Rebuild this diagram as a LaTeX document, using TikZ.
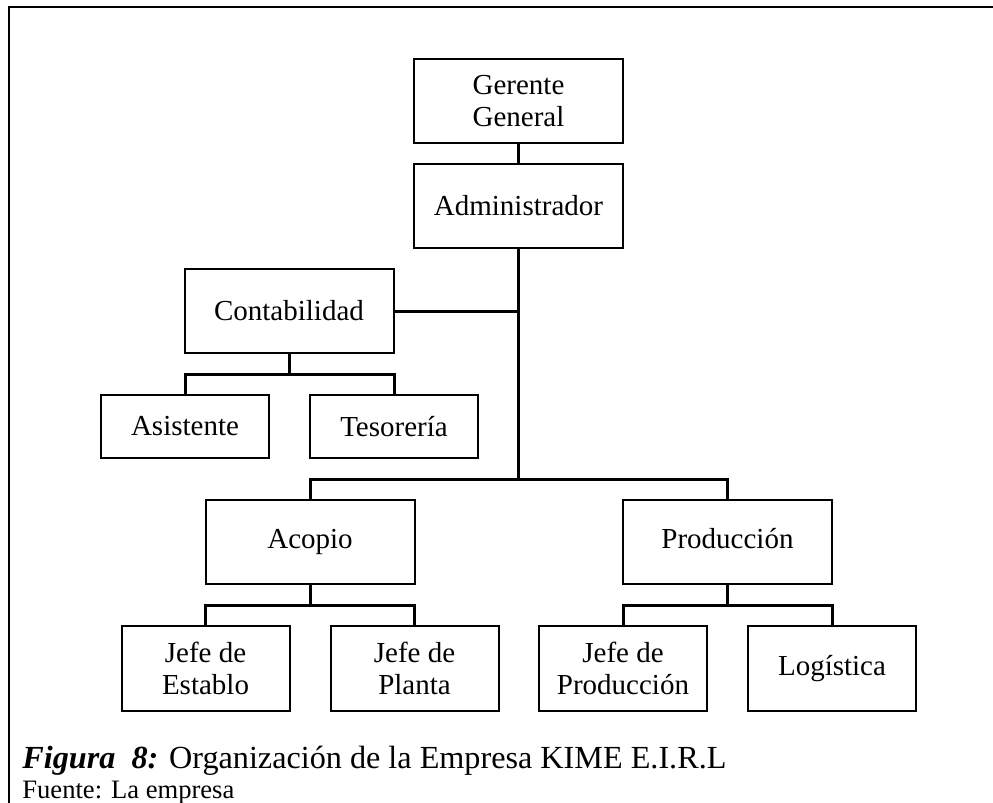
\documentclass[tikz,border=0pt]{standalone}
\usepackage{fontspec}
\setmainfont{Liberation Serif}
\usetikzlibrary{positioning}

\begin{document}
\begin{tikzpicture}[x=0.5pt, y=-0.5pt,
		cargo/.style={draw, line width=1pt, rectangle, inner sep=0pt, align=center,
			minimum width=104.5pt, minimum height=42pt,
			font=\fontsize{14.5}{16}\selectfont},
		subcargo/.style={cargo, minimum width=84pt, minimum height=42.5pt},
		enlace/.style={line width=1.5pt}]
	% 1. marco y limites
	\useasboundingbox (0,0) rectangle (993,803);
	\draw[line width=1.4pt] (9,803) -- (9,7) -- (993,7);
	
	% 2. cargos
	\node[cargo] (gerente) at (518.5,101) {Gerente\\General};
	\node[cargo] (admin) at (518.5,206) {Administrador};
	\node[cargo] (conta) at (289,311) {Contabilidad};
	\node[subcargo, minimum height=31.5pt] (asist) at (185,426.5) {Asistente};
	\node[subcargo, minimum height=31.5pt] (teso) at (394,426.5) {Tesorería};
	\node[cargo] (acopio) at (310,542) {\strut Acopio};
	\node[cargo] (prod) at (727.5,542) {\strut Producción};
	\node[subcargo] (jestablo) at (205.5,668.5) {Jefe de\\Establo};
	\node[subcargo] (jplanta) at (414.5,668.5) {Jefe de\\Planta};
	\node[subcargo] (jprod) at (623,668.5) {Jefe de\\Producción};
	\node[subcargo] (logis) at (832,668.5) {Logística};
	
	% 3. puntos de quiebre
	\coordinate (tronco) at (518.5,479);
	\coordinate (barconta) at (289,374);
	\coordinate (baracopio) at (310,605);
	\coordinate (barprod) at (727.5,605);
	
	% 4. lineas
	\draw[enlace] (gerente) -- (admin);
	\draw[enlace] (admin.south) -- (tronco);
	\draw[enlace] (conta.east) -- (conta.east -| tronco);
	\draw[enlace] (acopio.north) |- (tronco) -| (prod.north);
	\draw[enlace] (conta.south) -- (barconta);
	\draw[enlace] (asist.north) |- (barconta) -| (teso.north);
	\draw[enlace] (acopio.south) -- (baracopio);
	\draw[enlace] (jestablo.north) |- (baracopio) -| (jplanta.north);
	\draw[enlace] (prod.south) -- (barprod);
	\draw[enlace] (jprod.north) |- (barprod) -| (logis.north);
	
	% 5. titulo y fuente
	\node[anchor=base west, inner sep=0pt, font=\fontsize{16.1}{18}\selectfont] (titulo) at (22,768)
		{\textbf{\textit{Figura\ \ 8:}} Organización de la Empresa KIME E.I.R.L};
	\node[anchor=base west, inner sep=0pt, font=\fontsize{13.3}{15}\selectfont] (fuente) at (22,798)
		{Fuente: La empresa};
\end{tikzpicture}
\end{document}
